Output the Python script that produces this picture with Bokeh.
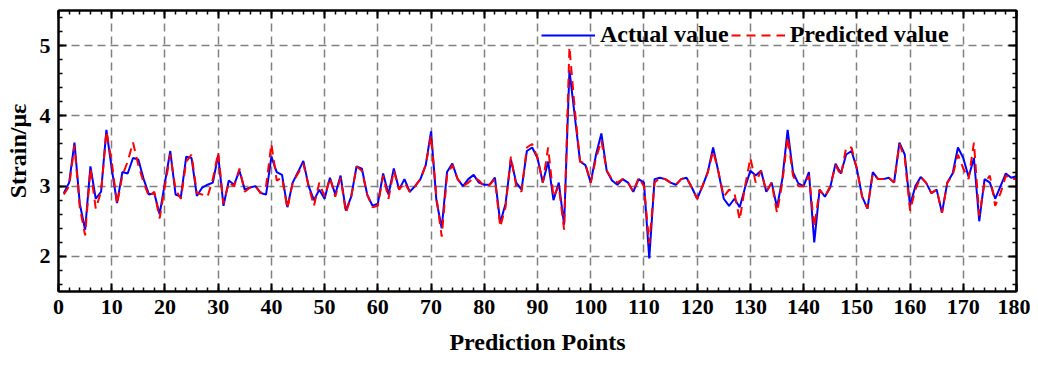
from bokeh.plotting import figure
from bokeh.models import (LinearAxis, SingleIntervalTicker, Legend, LegendItem,
                          Range1d)
from bokeh.embed import file_html
from bokeh.resources import INLINE

points = list(range(1, 181))

actual = [
    2.90, 3.05, 3.62, 2.75, 2.38, 3.28, 2.82, 2.92, 3.80, 3.25,
    2.76, 3.20, 3.18, 3.40, 3.38, 3.10, 2.88, 2.90, 2.60, 3.05,
    3.50, 2.88, 2.85, 3.42, 3.40, 2.86, 2.98, 3.02, 3.05, 3.44,
    2.72, 3.08, 3.02, 3.22, 2.95, 2.98, 3.00, 2.90, 2.88, 3.42,
    3.20, 3.16, 2.70, 3.05, 3.20, 3.36, 3.00, 2.80, 2.95, 2.82,
    3.12, 2.88, 3.15, 2.65, 2.85, 3.28, 3.25, 2.88, 2.72, 2.75,
    3.18, 2.88, 3.25, 2.95, 3.10, 2.92, 3.00, 3.10, 3.30, 3.78,
    2.80, 2.40, 3.20, 3.32, 3.10, 3.00, 3.10, 3.16, 3.05, 3.02,
    3.02, 3.12, 2.48, 2.75, 3.38, 3.05, 2.95, 3.50, 3.55, 3.40,
    3.05, 3.35, 2.80, 3.05, 2.45, 4.65, 4.00, 3.35, 3.30, 3.05,
    3.45, 3.75, 3.22, 3.08, 3.02, 3.10, 3.05, 2.92, 3.10, 3.05,
    1.97, 3.10, 3.12, 3.10, 3.05, 3.02, 3.10, 3.12, 2.98, 2.82,
    3.00, 3.20, 3.55, 3.20, 2.82, 2.72, 2.82, 2.70, 2.98, 3.22,
    3.15, 3.22, 2.92, 3.05, 2.70, 3.10, 3.80, 3.20, 3.04, 3.00,
    3.20, 2.20, 2.95, 2.85, 2.98, 3.32, 3.18, 3.45, 3.50, 3.25,
    2.85, 2.68, 3.20, 3.10, 3.10, 3.12, 3.05, 3.62, 3.45, 2.72,
    3.00, 3.13, 3.05, 2.90, 2.95, 2.62, 3.05, 3.18, 3.55, 3.40,
    3.13, 3.40, 2.50, 3.10, 3.05, 2.82, 3.00, 3.18, 3.12, 3.14,
]

predicted = [
    2.88, 3.00, 3.58, 2.70, 2.30, 3.25, 2.68, 2.92, 3.78, 3.35,
    2.74, 3.15, 3.35, 3.62, 3.30, 3.05, 2.85, 2.92, 2.54, 3.00,
    3.45, 2.95, 2.82, 3.35, 3.45, 2.90, 2.88, 2.85, 3.10, 3.48,
    2.75, 3.05, 3.00, 3.25, 2.92, 2.98, 3.00, 2.90, 3.00, 3.60,
    3.08, 3.12, 2.68, 3.05, 3.18, 3.32, 3.00, 2.72, 3.05, 2.85,
    3.12, 2.85, 3.12, 2.62, 2.85, 3.28, 3.22, 2.88, 2.70, 2.72,
    3.15, 2.82, 3.22, 2.95, 3.05, 2.92, 3.00, 3.10, 3.30, 3.72,
    2.85, 2.28, 3.15, 3.30, 3.10, 3.00, 3.05, 3.12, 3.08, 3.00,
    3.02, 3.10, 2.42, 2.70, 3.42, 3.00, 2.92, 3.55, 3.60, 3.40,
    3.05, 3.55, 2.85, 3.00, 2.38, 4.98, 4.10, 3.35, 3.32, 3.05,
    3.40, 3.65, 3.22, 3.10, 3.05, 3.10, 3.05, 2.92, 3.12, 3.00,
    2.18, 3.05, 3.12, 3.10, 3.05, 3.02, 3.10, 3.12, 2.98, 2.82,
    3.00, 3.20, 3.50, 3.20, 2.85, 2.95, 2.90, 2.52, 3.00, 3.40,
    3.05, 3.22, 2.92, 3.05, 2.62, 3.05, 3.70, 3.15, 3.00, 3.00,
    3.15, 2.42, 2.95, 2.85, 3.00, 3.30, 3.15, 3.55, 3.55, 3.25,
    2.85, 2.68, 3.18, 3.10, 3.10, 3.12, 3.05, 3.60, 3.40, 2.65,
    2.95, 3.13, 3.05, 2.90, 2.95, 2.62, 3.05, 3.15, 3.45, 3.25,
    3.10, 3.62, 2.58, 3.05, 3.15, 2.72, 2.90, 3.15, 3.10, 3.10,
]

FONT = "Liberation Serif"

p = figure(width=1030, height=361, output_backend="svg", toolbar_location=None,
           x_range=Range1d(0, 180), y_range=Range1d(1.5, 5.5),
           min_border_left=58, min_border_right=14, min_border_top=10,
           min_border_bottom=70)

p.outline_line_color = "black"
p.outline_line_width = 2
p.background_fill_color = "white"
p.border_fill_color = "white"

r_act = p.line(points, actual, line_color="#0000FF", line_width=2)
r_pred = p.line(points, predicted, line_color="#FF0000", line_width=2,
                line_dash="9 6")

def style_axis(ax, show_labels=True):
    ax.axis_line_color = "black"
    ax.axis_line_width = 2
    ax.major_tick_in = 8
    ax.major_tick_out = 0
    ax.minor_tick_in = 4
    ax.minor_tick_out = 0
    ax.major_tick_line_width = 2
    ax.minor_tick_line_width = 1.5
    ax.major_tick_line_color = "black"
    ax.minor_tick_line_color = "black"
    if show_labels:
        ax.major_label_text_font = FONT
        ax.major_label_text_font_style = "bold"
        ax.major_label_text_font_size = "22px"
        ax.major_label_text_color = "black"
        ax.axis_label_text_font = FONT
        ax.axis_label_text_font_style = "bold"
        ax.axis_label_text_color = "black"
    else:
        ax.major_label_text_font_size = "0px"
        ax.major_label_text_color = None
        ax.major_label_standoff = 0

xt = SingleIntervalTicker(interval=10, num_minor_ticks=5)
yt = SingleIntervalTicker(interval=1, num_minor_ticks=5)

p.xaxis.ticker = xt
p.yaxis.ticker = yt
style_axis(p.xaxis[0])
style_axis(p.yaxis[0])
p.xaxis.axis_label = "Prediction Points"
p.xaxis.axis_label_text_font_size = "24px"
p.xaxis.major_label_standoff = 8
p.xaxis.axis_label_standoff = 12
p.yaxis.axis_label = "Strain/με"
p.yaxis.axis_label_text_font_size = "24px"
p.yaxis.major_label_standoff = 8
p.yaxis.axis_label_standoff = 6

top_ax = LinearAxis(ticker=SingleIntervalTicker(interval=10, num_minor_ticks=5))
right_ax = LinearAxis(ticker=SingleIntervalTicker(interval=1, num_minor_ticks=5))
style_axis(top_ax, show_labels=False)
style_axis(right_ax, show_labels=False)
p.add_layout(top_ax, "above")
p.add_layout(right_ax, "right")

p.xgrid.ticker = xt
p.ygrid.ticker = yt
for g in (p.xgrid[0], p.ygrid[0]):
    g.grid_line_color = "#808080"
    g.grid_line_width = 1.5
    g.grid_line_dash = "8 5"

legend = Legend(items=[LegendItem(label="Actual value", renderers=[r_act]),
                       LegendItem(label="Predicted value", renderers=[r_pred])],
                orientation="horizontal", location=(483, 243))
legend.background_fill_alpha = 0
legend.border_line_alpha = 0
legend.label_text_font = FONT
legend.label_text_font_style = "bold"
legend.label_text_font_size = "24px"
legend.label_text_color = "black"
legend.glyph_width = 54
legend.glyph_height = 20
legend.label_standoff = 5
legend.spacing = 2
legend.padding = 0
legend.margin = 0
p.add_layout(legend, "center")

open("out.html", "w").write(file_html(p, INLINE))
